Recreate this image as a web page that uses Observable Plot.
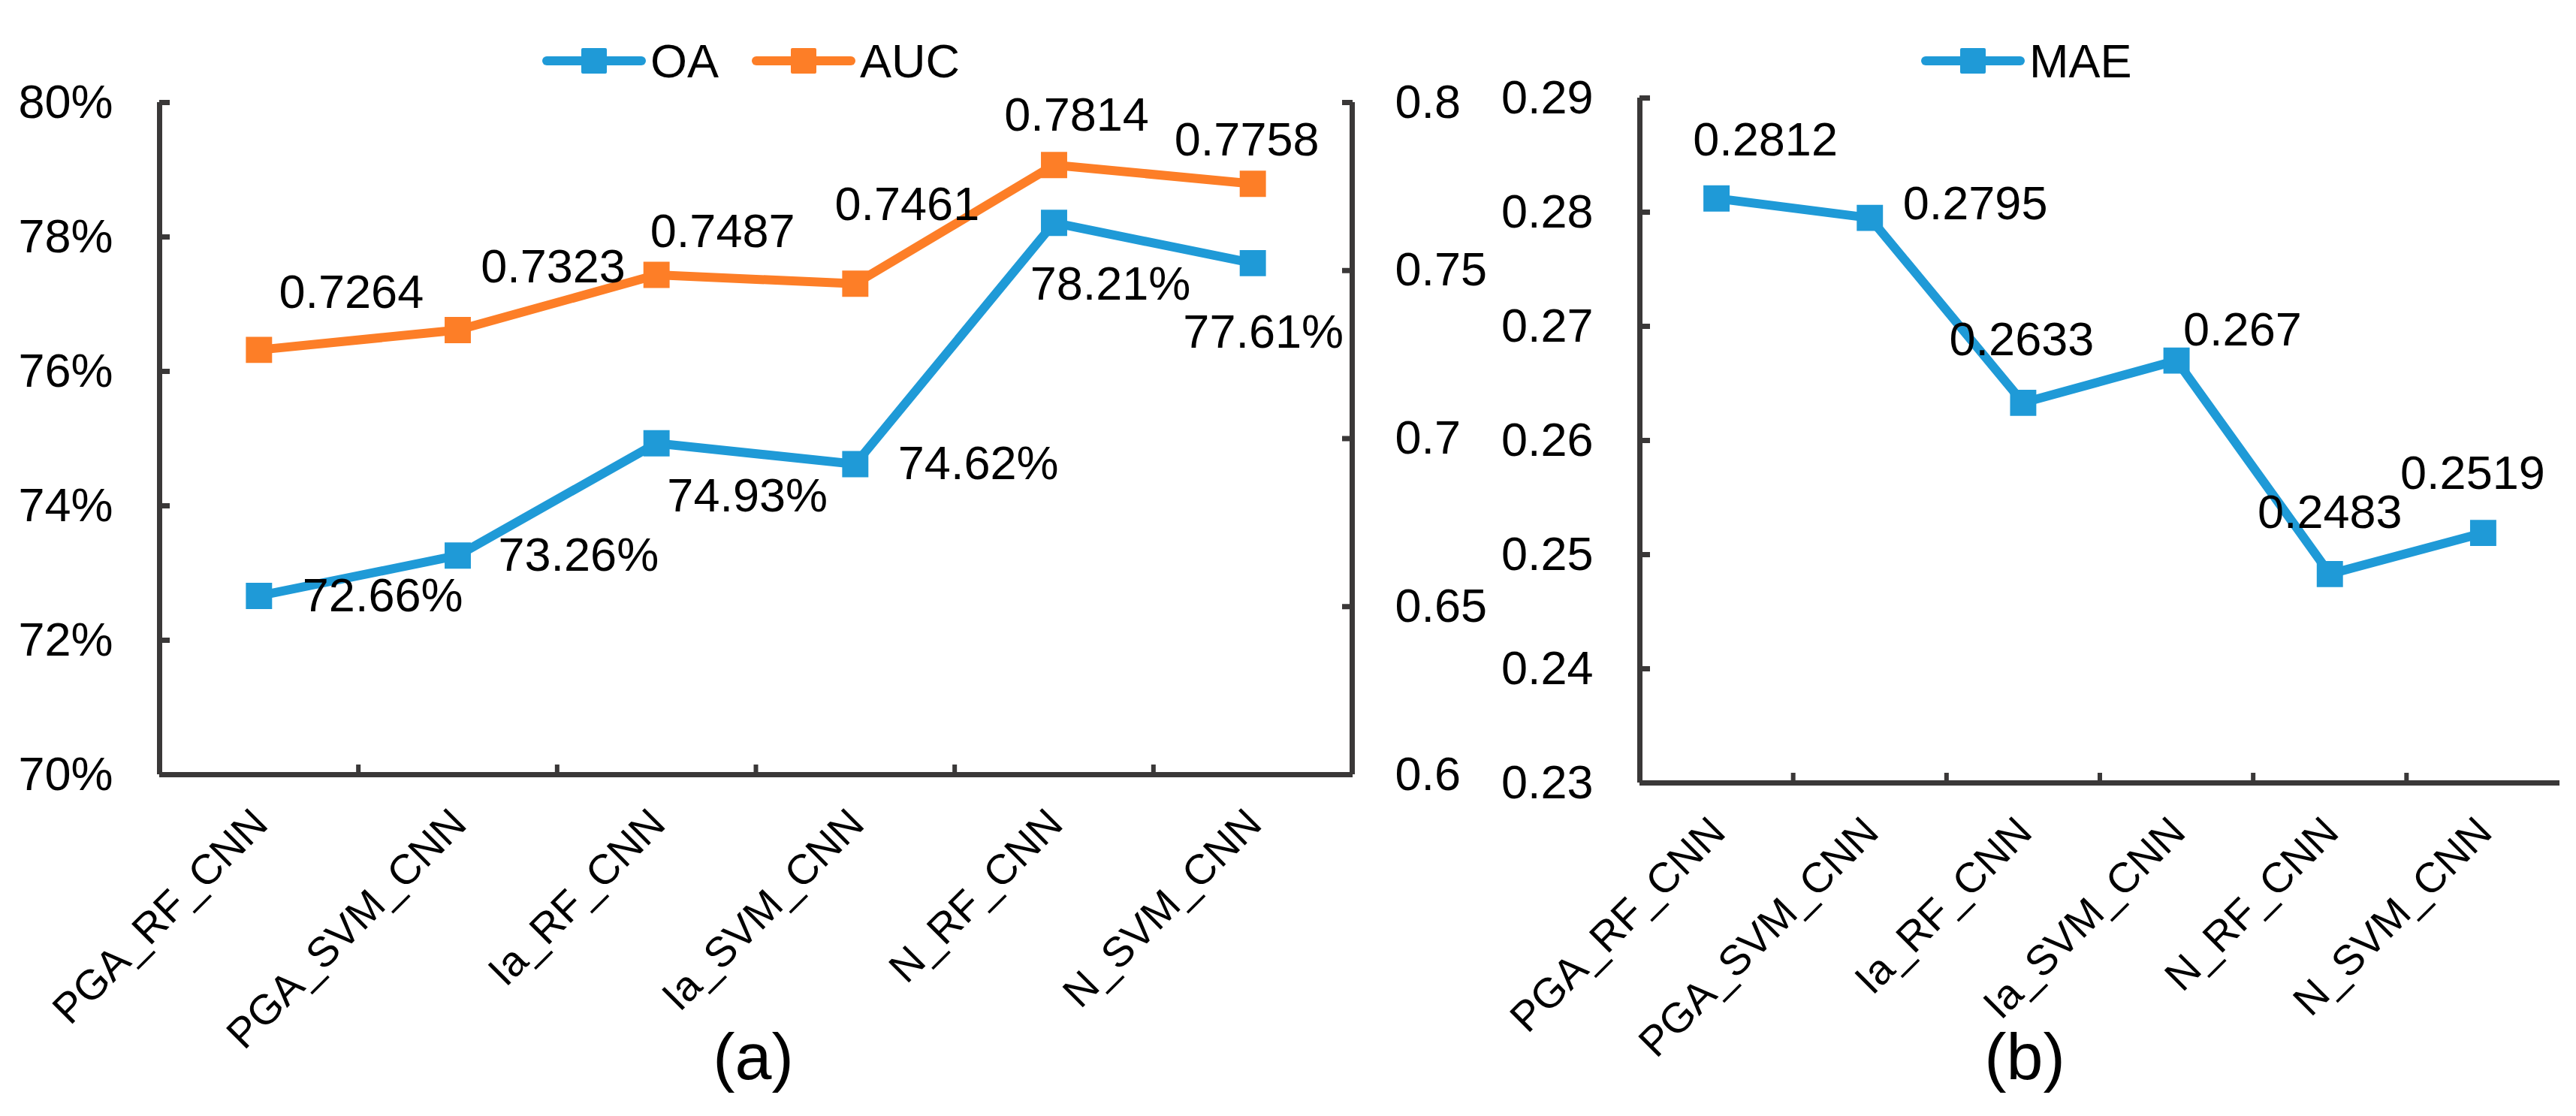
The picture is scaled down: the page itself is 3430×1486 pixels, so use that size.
<!DOCTYPE html>
<html>
<head>
<meta charset="utf-8">
<script src="https://cdn.jsdelivr.net/npm/d3@7"></script>
<script src="https://cdn.jsdelivr.net/npm/@observablehq/plot@0.6"></script>
<style>
  body { margin: 0; background: #fff; font-family: "Liberation Sans", Arial, sans-serif; }
  #page { position: relative; width: 3430px; height: 1486px; overflow: hidden; background: #fff; }
  .panel { position: absolute; top: 0; }
  .panel svg { overflow: visible; }
  .legend { position: absolute; display: flex; align-items: center; height: 80px; font-size: 63px; color: #000; }
  .legend .item { display: flex; align-items: center; margin-right: 44px; }
  .legend svg { display: block; margin-right: 6px; }
  .tag { position: absolute; font-size: 88px; transform: translate(-50%, -50%); color: #000; }
</style>
</head>
<body>
<div id="page">
  <div id="a" class="panel" style="left:0"></div>
  <div id="b" class="panel" style="left:1990px"></div>
  <div id="legA" class="legend" style="left:722px; top:41px"></div>
  <div id="legB" class="legend" style="left:2558px; top:41px"></div>
  <div class="tag" style="left:1003px; top:1407px">(a)</div>
  <div class="tag" style="left:2696px; top:1407px">(b)</div>
</div>
<script>
/* global Plot */

// values
const models = ['PGA_RF_CNN', 'PGA_SVM_CNN', 'Ia_RF_CNN', 'Ia_SVM_CNN', 'N_RF_CNN', 'N_SVM_CNN'];
const oa = [72.66, 73.26, 74.93, 74.62, 78.21, 77.61];
const auc = [0.7264, 0.7323, 0.7487, 0.7461, 0.7814, 0.7758];
const mae = [0.2812, 0.2795, 0.2633, 0.267, 0.2483, 0.2519];
const oaTicks = [70, 72, 74, 76, 78, 80];
const aucTicks = [0.6, 0.65, 0.7, 0.75, 0.8];
const maeTicks = [0.23, 0.24, 0.25, 0.26, 0.27, 0.28, 0.29];

// label nudges (dx, dy, anchor) - these were hand placed in the original
const oaNudge = [[58, 0, 'start'], [54, 0, 'start'], [121, 71, 'middle'], [57, 0, 'start'], [75, 82, 'middle'], [14, 92, 'middle']];
const aucNudge = [[123, -76, 'middle'], [127, -84, 'middle'], [88, -57, 'middle'], [69, -105, 'middle'], [30, -66, 'middle'], [-8, -58, 'middle']];
const maeNudge = [[65, -77, 'middle'], [44, -18, 'start'], [-2, -84, 'middle'], [9, -40, 'start'], [0, -82, 'middle'], [-14, -79, 'middle']];

const blue = '#1f9ad7';
const orange = '#fd7e27';
const axisColor = '#3a3838';
const font = '"Liberation Sans", Arial, sans-serif';
const idx = models.map((d, i) => i);
const xc = i => i + 0.5;

// AUC sits on the right axis: map 0.6..0.8 onto 70..80
const aucToOa = v => 70 + (v - 0.6) * 50;
const oaToAuc = v => +((v - 70) / 50 + 0.6).toFixed(2);

function series (values, yOf, color) {
  return [
    Plot.line(idx, { x: xc, y: i => yOf(values[i]), stroke: color, strokeWidth: 12, strokeLinejoin: 'round' }),
    Plot.dot(idx, { x: xc, y: i => yOf(values[i]), symbol: 'square', r: 19.7, fill: color })
  ];
}

function labels (values, yOf, fmt, nudge) {
  return idx.map(i => Plot.text([i], {
    x: xc,
    y: () => yOf(values[i]),
    text: () => fmt(values[i]),
    dx: nudge[i][0],
    dy: nudge[i][1],
    textAnchor: nudge[i][2],
    fontSize: 63,
    fill: '#000'
  }));
}

function xAxis () {
  return [
    Plot.axisX([1, 2, 3, 4, 5], { tickSize: 13, dy: -13, tickFormat: () => '', stroke: axisColor, strokeWidth: 6 }),
    Plot.axisX(idx.map(xc), {
      tickFormat: d => models[Math.round(d - 0.5)],
      tickRotate: -45,
      tickSize: 0,
      tickPadding: 56,
      dx: 2,
      fontSize: 56,
      fill: '#000'
    })
  ];
}

const chartA = Plot.plot({
  width: 1990,
  height: 1486,
  marginLeft: 212,
  marginRight: 190,
  marginTop: 136,
  marginBottom: 455,
  style: { fontFamily: font, color: '#000', background: 'transparent', overflow: 'visible' },
  x: { domain: [0, 6] },
  y: { domain: [70, 80] },
  marks: [
    Plot.axisY(oaTicks, { tickSize: 14, dx: 14, tickFormat: () => '', stroke: axisColor, strokeWidth: 7 }),
    Plot.axisY(oaTicks, { tickSize: 0, tickPadding: 62, tickFormat: d => d + '%', fontSize: 63, fill: '#000' }),
    Plot.axisY(aucTicks.map(aucToOa), { anchor: 'right', tickSize: 14, dx: -14, tickFormat: () => '', stroke: axisColor, strokeWidth: 7 }),
    Plot.axisY(aucTicks.map(aucToOa), { anchor: 'right', tickSize: 0, tickPadding: 57, tickFormat: d => String(oaToAuc(d)), fontSize: 63, fill: '#000' }),
    ...xAxis(),
    Plot.ruleX([0, 6], { stroke: axisColor, strokeWidth: 7 }),
    Plot.ruleY([70], { stroke: axisColor, strokeWidth: 7 }),
    ...series(oa, v => v, blue),
    ...series(auc, aucToOa, orange),
    ...labels(oa, v => v, v => v.toFixed(2) + '%', oaNudge),
    ...labels(auc, aucToOa, v => String(v), aucNudge)
  ]
});
document.getElementById('a').append(chartA);

const chartB = Plot.plot({
  width: 1440,
  height: 1486,
  marginLeft: 193,
  marginRight: 22,
  marginTop: 130,
  marginBottom: 444,
  style: { fontFamily: font, color: '#000', background: 'transparent', overflow: 'visible' },
  x: { domain: [0, 6] },
  y: { domain: [0.23, 0.29] },
  marks: [
    Plot.axisY(maeTicks, { tickSize: 14, dx: 14, tickFormat: () => '', stroke: axisColor, strokeWidth: 7 }),
    Plot.axisY(maeTicks, { tickSize: 0, tickPadding: 62, tickFormat: d => d.toFixed(2), fontSize: 63, fill: '#000' }),
    ...xAxis(),
    Plot.ruleX([0], { stroke: axisColor, strokeWidth: 7 }),
    Plot.ruleY([0.23], { stroke: axisColor, strokeWidth: 7 }),
    ...series(mae, v => v, blue),
    ...labels(mae, v => v, v => String(v), maeNudge)
  ]
});
document.getElementById('b').append(chartB);

// legends drawn as html above the plots
function legend (el, items) {
  const box = document.getElementById(el);
  items.forEach(([name, color]) => {
    const item = document.createElement('div');
    item.className = 'item';
    item.innerHTML =
      `<svg width="138" height="40"><line x1="6" y1="20" x2="132" y2="20" stroke="${color}" stroke-width="12" stroke-linecap="round"/>` +
      `<rect x="52" y="3" width="34" height="34" rx="2" fill="${color}"/></svg><span>${name}</span>`;
    box.append(item);
  });
}
legend('legA', [['OA', blue], ['AUC', orange]]);
legend('legB', [['MAE', blue]]);
</script>
</body>
</html>
